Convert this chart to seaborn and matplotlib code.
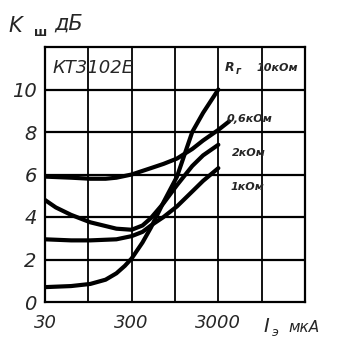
import numpy as np
import pandas as pd
import matplotlib
matplotlib.use("Agg")
import matplotlib.pyplot as plt
import seaborn as sns

# Data (current in uA, noise figure in dB)
i_10k = [30, 60, 100, 150, 200, 250, 300, 400, 500, 700, 1000, 1500, 2000, 3000]
k_10k = [0.7, 0.75, 0.85, 1.05, 1.35, 1.7, 2.05, 2.8, 3.5, 4.7, 5.9, 8.0, 8.9, 10.0]

i_06k = [30, 60, 100, 150, 200, 300, 500, 700, 1000, 1500, 2000, 3000, 4000]
k_06k = [5.9, 5.85, 5.8, 5.8, 5.85, 6.0, 6.3, 6.5, 6.75, 7.2, 7.6, 8.1, 8.5]

i_2k = [30, 40, 60, 100, 200, 300, 400, 500, 700, 1000, 1500, 2000, 3000]
k_2k = [4.8, 4.45, 4.1, 3.75, 3.45, 3.4, 3.6, 3.95, 4.65, 5.5, 6.4, 6.9, 7.4]

i_1k = [30, 60, 100, 200, 300, 400, 500, 700, 1000, 1500, 2000, 3000]
k_1k = [2.95, 2.9, 2.9, 2.95, 3.1, 3.3, 3.6, 4.0, 4.5, 5.2, 5.7, 6.3]

series_names = ["10кОм", "0,6кОм", "2кОм", "1кОм"]
x_ticks = [30, 300, 3000]
x_ticklabels = ["30", "300", "3000"]
y_ticks = [0, 2, 4, 6, 8, 10]
y_ticklabels = ["0", "2", "4", "6", "8", "10"]

frames = []
for name, xs, ys in zip(series_names, [i_10k, i_06k, i_2k, i_1k], [k_10k, k_06k, k_2k, k_1k]):
    frames.append(pd.DataFrame({"I": xs, "K": ys, "R": name}))
df = pd.concat(frames, ignore_index=True)

sns.set_style("white")
plt.rcParams["font.family"] = ["DejaVu Sans"]

fig = plt.figure(figsize=(3.38, 3.5), dpi=100)
ax = fig.add_axes([45 / 338, 1 - 302 / 350, 260 / 338, 255 / 350])

ax.set_xscale("log")
ax.set_xlim(30, 30000)
ax.set_ylim(0, 12)

# grid
for gx in [30 * 10 ** (k / 2) for k in range(1, 6)]:
    ax.axvline(gx, color="black", lw=1.3, zorder=1)
for gy in [2, 4, 6, 8, 10]:
    ax.axhline(gy, color="black", lw=1.6, zorder=1)

sns.lineplot(data=df, x="I", y="K", units="R", estimator=None, color="black",
             lw=3.0, ax=ax, legend=False, sort=False, zorder=3)

for s in ax.spines.values():
    s.set_color("black")
    s.set_linewidth(1.6)

ax.set_xticks(x_ticks)
ax.set_xticklabels(x_ticklabels, fontsize=13, style="italic")
ax.set_yticks(y_ticks)
ax.set_yticklabels(y_ticklabels, fontsize=14, style="italic")
ax.minorticks_off()
ax.tick_params(axis="x", length=0, pad=9)
ax.tick_params(axis="y", length=0, pad=6)
ax.set_xlabel("")
ax.set_ylabel("")

# annotations
ax.text(37, 11.0, "КТ3102Е", fontsize=13, style="italic", va="center", ha="left")
ax.text(3580, 11.05, "R", fontsize=9, style="italic", va="center", ha="left", weight="bold")
ax.text(4700, 10.85, "г", fontsize=7, style="italic", va="center", ha="left", weight="bold")
ax.text(8300, 11.0, "10кОм", fontsize=8, style="italic", va="center", ha="left", weight="bold")
ax.text(3700, 8.6, "0,6кОм", fontsize=8, style="italic", va="center", ha="left", weight="bold")
ax.text(4300, 7.0, "2кОм", fontsize=8, style="italic", va="center", ha="left", weight="bold")
ax.text(4100, 5.4, "1кОм", fontsize=8, style="italic", va="center", ha="left", weight="bold")

# axis titles
fig.text(8 / 338, 1 - 26 / 350, "K", fontsize=15, style="italic", va="center", ha="left")
fig.text(34 / 338, 1 - 32 / 350, "ш", fontsize=9, weight="bold", va="center", ha="left")
fig.text(54 / 338, 1 - 24 / 350, "дБ", fontsize=15, style="italic", va="center", ha="left")
fig.text(263 / 338, 1 - 327 / 350, "I", fontsize=14, style="italic", va="center", ha="left")
fig.text(272 / 338, 1 - 333 / 350, "э", fontsize=9, style="italic", va="center", ha="left")
fig.text(288 / 338, 1 - 328 / 350, "мкА", fontsize=11, style="italic", va="center", ha="left")

fig.savefig("out.png", dpi=100)
